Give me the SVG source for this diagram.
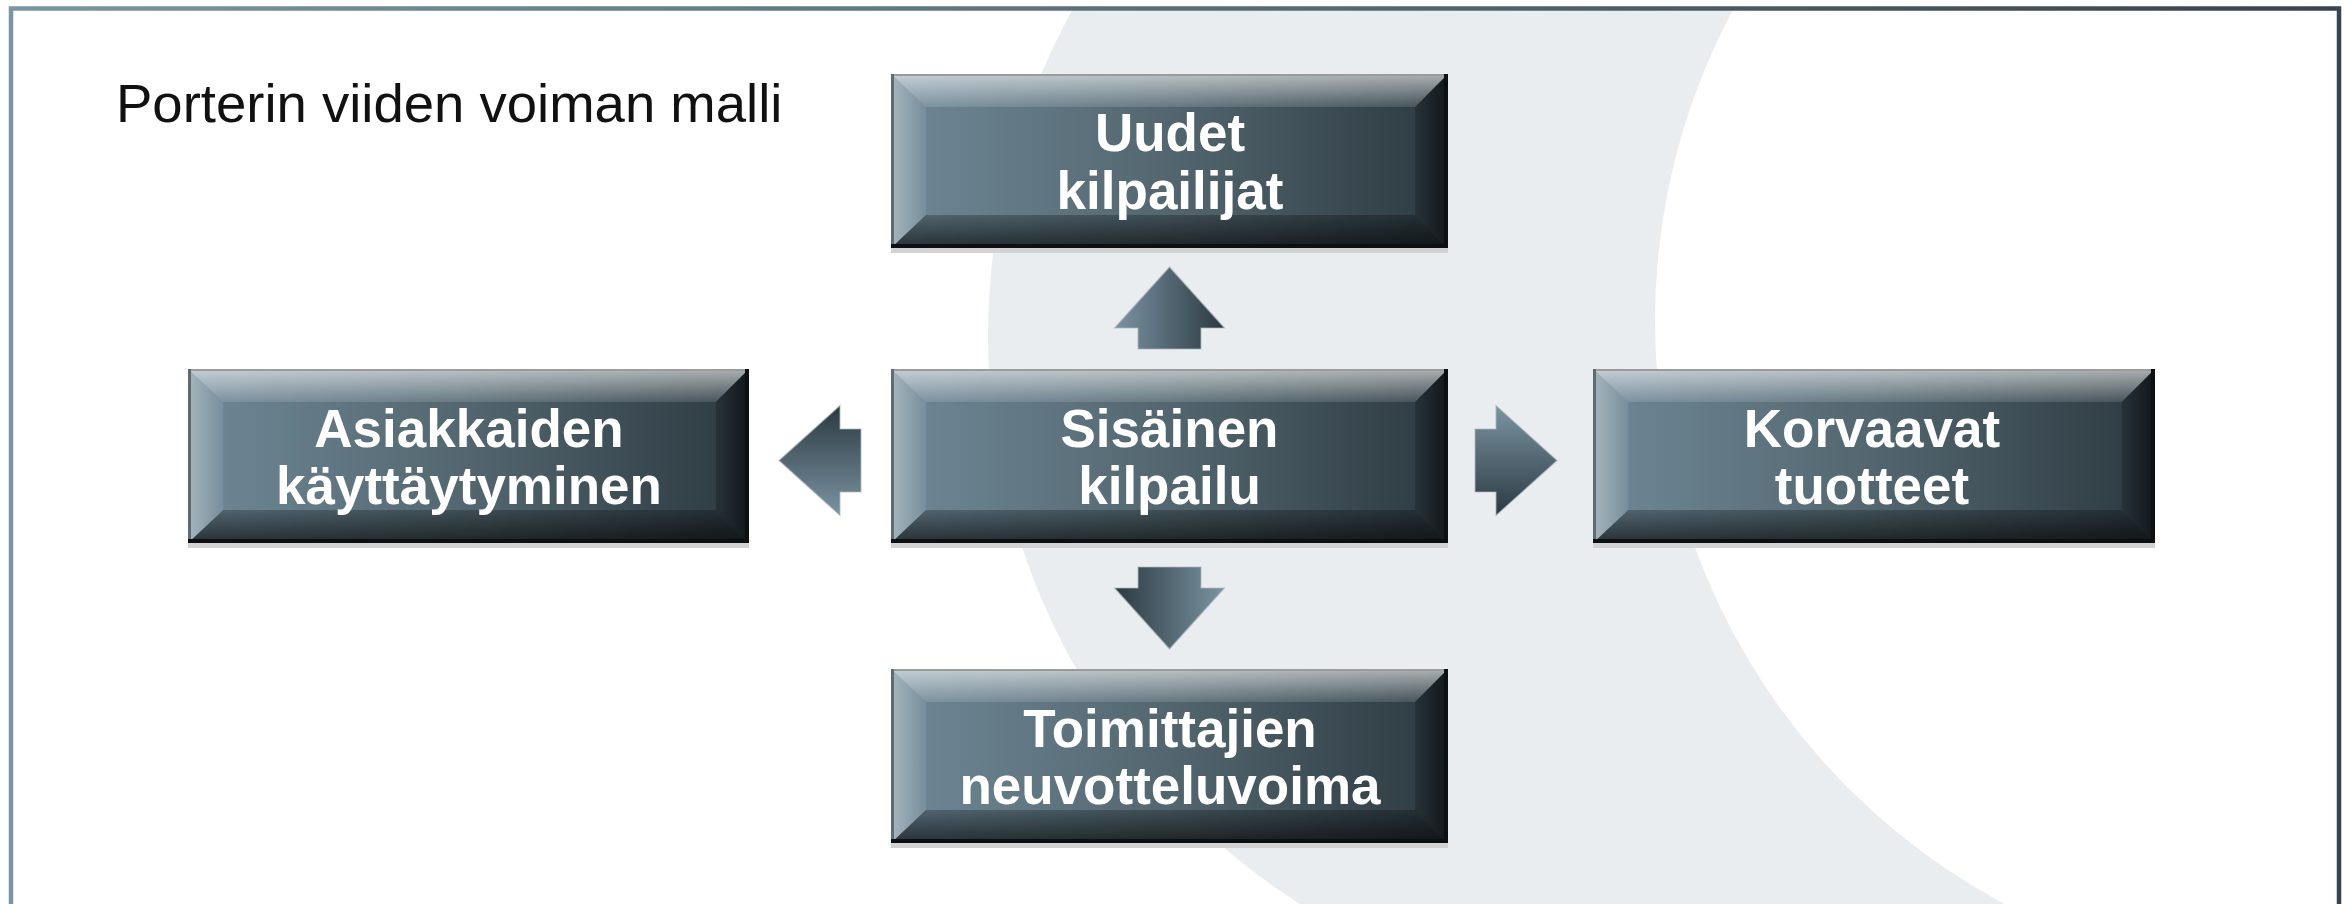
<svg xmlns="http://www.w3.org/2000/svg" xmlns:xlink="http://www.w3.org/1999/xlink" width="2346" height="904" viewBox="0 0 2346 904">
<style>
.lbl{font-family:"Liberation Sans",Arial,sans-serif;font-weight:bold;font-size:53px;fill:#ffffff;text-anchor:middle}
.title{font-family:"Liberation Sans",Arial,sans-serif;font-size:54.5px;fill:#111111}
.arrow{fill:url(#gArrow);stroke:#aeb8be;stroke-width:1.2;stroke-opacity:0.7}
</style>
<defs>
<linearGradient id="gFrame" gradientUnits="userSpaceOnUse" x1="0" y1="0" x2="2346" y2="0">
<stop offset="0" stop-color="#7a95a3"/><stop offset="1" stop-color="#38454f"/>
</linearGradient>
<linearGradient id="gBase" x1="0" y1="0" x2="1" y2="0">
<stop offset="0" stop-color="#6f8897"/><stop offset="0.5" stop-color="#53666f"/><stop offset="1" stop-color="#2c3940"/>
</linearGradient>
<linearGradient id="gTop" x1="0" y1="0" x2="0" y2="1">
<stop offset="0" stop-color="#ffffff" stop-opacity="0.6"/><stop offset="1" stop-color="#ffffff" stop-opacity="0.12"/>
</linearGradient>
<linearGradient id="gBot" x1="0" y1="0" x2="0" y2="1">
<stop offset="0" stop-color="#000000" stop-opacity="0.25"/><stop offset="1" stop-color="#000000" stop-opacity="0.65"/>
</linearGradient>
<linearGradient id="gLeft" x1="0" y1="0" x2="1" y2="0">
<stop offset="0" stop-color="#ffffff" stop-opacity="0.38"/><stop offset="1" stop-color="#ffffff" stop-opacity="0.08"/>
</linearGradient>
<linearGradient id="gRight" x1="0" y1="0" x2="1" y2="0">
<stop offset="0" stop-color="#000000" stop-opacity="0.2"/><stop offset="1" stop-color="#000000" stop-opacity="0.6"/>
</linearGradient>
<linearGradient id="gArrow" gradientUnits="userSpaceOnUse" x1="-55" y1="0" x2="55" y2="0">
<stop offset="0" stop-color="#7b94a3"/><stop offset="1" stop-color="#2b3941"/>
</linearGradient>
<symbol id="btn" viewBox="0 0 558 174" preserveAspectRatio="none">
<rect width="558" height="174" fill="url(#gBase)"/>
<polygon points="0,0 558,0 525,33 35,33" fill="url(#gTop)"/>
<polygon points="0,174 558,174 525,141 35,141" fill="url(#gBot)"/>
<polygon points="0,0 35,33 35,141 0,174" fill="url(#gLeft)"/>
<polygon points="558,0 525,33 525,141 558,174" fill="url(#gRight)"/>
<rect x="0" y="0" width="558" height="2" fill="#9b9b9b"/>
<rect x="0" y="0" width="3" height="174" fill="#5e6b73"/>
<rect x="0" y="170" width="558" height="4" fill="#0c1013"/>
<rect x="554" y="0" width="4" height="174" fill="#0c1013"/>
</symbol>
<path id="arr" d="M0,-41 L55,20 L31.5,20 L31.5,41 L-31.5,41 L-31.5,20 L-55,20 Z"/>
<clipPath id="inner"><rect x="13" y="10.5" width="2324" height="900"/></clipPath>
</defs>

<rect width="2346" height="904" fill="#ffffff"/>

<g id="background" clip-path="url(#inner)">
<circle cx="1661" cy="336" r="673" fill="#e9edf0"/>
<circle cx="2316" cy="321" r="661" fill="#ffffff"/>
</g>

<rect id="frame" x="11" y="8.5" width="2328" height="1000" fill="none" stroke="url(#gFrame)" stroke-width="4.5"/>

<text id="title" class="title" x="116" y="122">Porterin viiden voiman malli</text>

<g id="connectors">
<use href="#arr" class="arrow" transform="translate(1169.5,308)"/>
<use href="#arr" class="arrow" transform="translate(1169.5,608) rotate(180)"/>
<use href="#arr" class="arrow" transform="translate(1516,460.5) rotate(90)"/>
<use href="#arr" class="arrow" transform="translate(820,460.5) rotate(-90)"/>
</g>

<g id="node-uudet">
<rect x="891" y="248" width="557" height="5" fill="#d2d2d2"/>
<use href="#btn" x="891" y="74" width="557" height="174"/>
<text class="lbl" x="1170" y="151">Uudet</text>
<text class="lbl" x="1170" y="209">kilpailijat</text>
</g>

<g id="node-asiakkaiden">
<rect x="188" y="543" width="561" height="5" fill="#d2d2d2"/>
<use href="#btn" x="188" y="369" width="561" height="174"/>
<text class="lbl" x="469" y="447">Asiakkaiden</text>
<text class="lbl" x="469" y="504">käyttäytyminen</text>
</g>

<g id="node-sisainen">
<rect x="891" y="543" width="557" height="5" fill="#d2d2d2"/>
<use href="#btn" x="891" y="369" width="557" height="174"/>
<text class="lbl" x="1169.5" y="447">Sisäinen</text>
<text class="lbl" x="1169.5" y="504">kilpailu</text>
</g>

<g id="node-korvaavat">
<rect x="1593" y="543" width="562" height="5" fill="#d2d2d2"/>
<use href="#btn" x="1593" y="369" width="562" height="174"/>
<text class="lbl" x="1872" y="447">Korvaavat</text>
<text class="lbl" x="1872" y="504">tuotteet</text>
</g>

<g id="node-toimittajien">
<rect x="891" y="843" width="557" height="5" fill="#d2d2d2"/>
<use href="#btn" x="891" y="669" width="557" height="174"/>
<text class="lbl" x="1170" y="747">Toimittajien</text>
<text class="lbl" x="1170" y="804">neuvotteluvoima</text>
</g>
</svg>
